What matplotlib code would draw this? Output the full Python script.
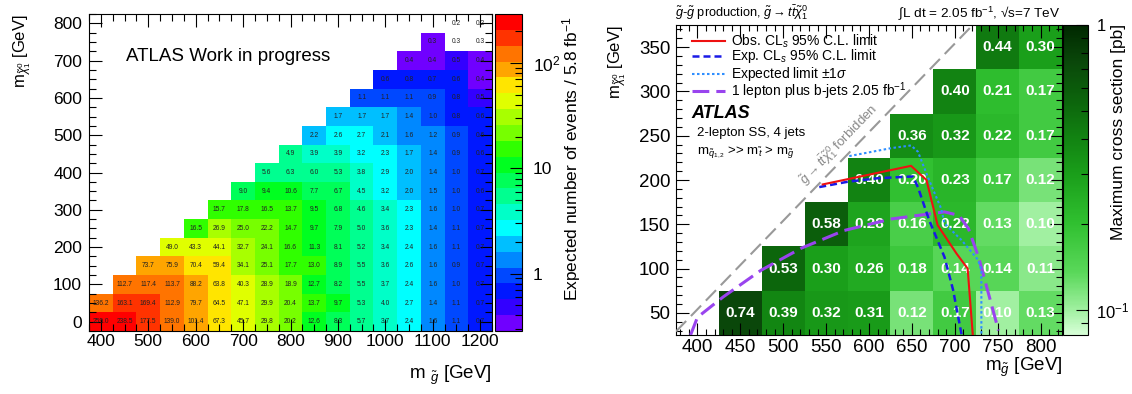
import numpy as np
import matplotlib
matplotlib.use("Agg")
import matplotlib.pyplot as plt
from matplotlib.colors import ListedColormap, LogNorm, LinearSegmentedColormap
from matplotlib.ticker import MultipleLocator

plt.rcParams['font.family'] = ['Liberation Sans', 'DejaVu Sans']
plt.rcParams['mathtext.fontset'] = 'custom'
plt.rcParams['mathtext.rm'] = 'Liberation Sans'
plt.rcParams['mathtext.it'] = 'Liberation Sans:italic'
plt.rcParams['mathtext.bf'] = 'Liberation Sans:bold'
plt.rcParams['mathtext.fallback'] = 'stixsans'

# ---- left panel: expected events / 5.8 fb-1 ----
left_mg = [400, 450, 500, 550, 600, 650, 700, 750, 800, 850, 900, 950, 1000, 1050, 1100, 1150, 1200]
left_mchi = [0, 50, 100, 150, 200, 250, 300, 350, 400, 450, 500, 550, 600, 650, 700, 750, 800]
left_row_start = [400, 400, 450, 500, 550, 600, 650, 700, 750, 800, 850, 900, 950, 1000, 1050, 1100, 1150]
left_rows = [
    [259.0, 238.5, 177.5, 139.0, 101.4, 67.3, 45.7, 29.8, 20.2, 12.6, 8.3, 5.7, 3.7, 2.4, 1.6, 1.1, 0.7],
    [136.2, 163.1, 169.4, 112.9, 79.7, 64.5, 47.1, 29.9, 20.4, 13.7, 9.7, 5.3, 4.0, 2.7, 1.4, 1.1, 0.7],
    [112.7, 117.4, 113.7, 88.2, 63.8, 40.3, 28.9, 18.9, 12.7, 8.2, 5.5, 3.7, 2.4, 1.6, 1.0, 0.7],
    [73.7, 75.9, 70.4, 59.4, 34.1, 25.1, 17.7, 13.0, 8.9, 5.5, 3.6, 2.6, 1.6, 0.9, 0.7],
    [49.0, 43.3, 44.1, 32.7, 24.1, 16.6, 11.3, 8.1, 5.2, 3.4, 2.4, 1.6, 1.1, 0.7],
    [16.5, 26.9, 25.0, 22.2, 14.7, 9.7, 7.9, 5.0, 3.6, 2.3, 1.4, 1.1, 0.7],
    [15.7, 17.8, 16.5, 13.7, 9.5, 6.8, 4.6, 3.4, 2.3, 1.6, 1.0, 0.7],
    [9.0, 9.4, 10.6, 7.7, 6.7, 4.5, 3.2, 2.0, 1.5, 1.0, 0.6],
    [5.6, 6.3, 6.0, 5.3, 3.8, 2.9, 2.0, 1.4, 1.0, 0.7],
    [4.9, 3.9, 3.9, 3.2, 2.3, 1.7, 1.4, 0.9, 0.6],
    [2.2, 2.6, 2.7, 2.1, 1.6, 1.2, 0.9, 0.6],
    [1.7, 1.7, 1.7, 1.4, 1.0, 0.8, 0.6],
    [1.1, 1.1, 1.1, 0.9, 0.8, 0.5],
    [0.6, 0.8, 0.7, 0.6, 0.4],
    [0.4, 0.4, 0.5, 0.4],
    [0.3, 0.27, 0.26],
    [0.2, 0.2],
]
left_colors = ['#7000ff', '#3300ff', '#0018ff', '#0048ff', '#0088ff', '#00bfff', '#00ffff', '#00ffc8',
               '#00ff90', '#00ff58', '#00ff20', '#30ff00', '#77ff00', '#a8ff00', '#e0ff00', '#ffe500',
               '#ffa500', '#ff7400', '#ff3300', '#ff0000']

# ---- right panel: maximum cross section [pb] ----
right_mg = [450, 500, 550, 600, 650, 700, 750, 800]
right_mchi = [50, 100, 150, 200, 250, 300, 350]
right_row_start = [450, 500, 550, 600, 650, 700, 750]
right_rows = [
    [0.74, 0.39, 0.32, 0.31, 0.12, 0.17, 0.10, 0.13],
    [0.53, 0.30, 0.26, 0.18, 0.14, 0.14, 0.11],
    [0.58, 0.28, 0.16, 0.22, 0.13, 0.10],
    [0.40, 0.20, 0.23, 0.17, 0.12],
    [0.36, 0.32, 0.22, 0.17],
    [0.40, 0.21, 0.17],
    [0.44, 0.30],
]
obs_x = [546, 649, 667, 680, 702, 715, 721]
obs_y = [195, 216, 200, 149, 117, 100, 25]
exp_x = [542, 575, 610, 651, 657, 670, 688, 698, 708]
exp_y = [192, 198, 202, 204, 192, 155, 113, 76, 25]
exp1s_x = [577, 626, 649, 657, 670, 684, 688, 708, 727, 731, 731]
exp1s_y = [227, 236, 239, 232, 200, 168, 151, 132, 110, 98, 25]
lep_x = [392, 400, 430, 474, 521, 571, 626, 688, 705, 716, 728, 751]
lep_y = [25, 45, 68, 98, 123, 143, 156, 164, 160, 145, 112, 30]
forbid_x = [375, 721]
forbid_y = [29, 375]


def fill_grid(xs, ys, starts, rows):
    g = np.full((len(ys), len(xs)), np.nan)
    for i, (s, vals) in enumerate(zip(starts, rows)):
        j0 = xs.index(s)
        g[i, j0:j0 + len(vals)] = vals
    return g


def edges(c):
    c = np.asarray(c, float)
    w = c[1] - c[0]
    return np.append(c - w / 2, c[-1] + w / 2)


W, H = 1132, 394
fig = plt.figure(figsize=(W / 100, H / 100), dpi=100)


def px_axes(l, t, r, b):
    return fig.add_axes([l / W, 1 - b / H, (r - l) / W, (b - t) / H])


def style_ticks(ax, maj, mnr):
    ax.tick_params(which='both', direction='in', top=True, right=True, width=0.8, colors='black')
    ax.tick_params(which='major', length=maj)
    ax.tick_params(which='minor', length=mnr)
    for s in ax.spines.values():
        s.set_linewidth(0.8)


# ---------------- left ----------------
axL = px_axes(89, 14, 492, 331)
gridL = fill_grid(left_mg, left_mchi, left_row_start, left_rows)
cmapL = ListedColormap(left_colors)
cmapL.set_under('white')
cmapL.set_bad('white')
normL = LogNorm(vmin=0.285, vmax=292)
meshL = axL.pcolormesh(edges(left_mg), edges(left_mchi), np.ma.masked_invalid(gridL), cmap=cmapL, norm=normL)
for i, y in enumerate(left_mchi):
    for j, x in enumerate(left_mg):
        v = gridL[i, j]
        if not np.isnan(v):
            axL.text(x, y, f"{v:.1f}", ha='center', va='center', fontsize=4.8, color='#222222')
axL.set_xlim(375, 1225)
axL.set_ylim(-25, 825)
axL.xaxis.set_major_locator(MultipleLocator(100))
axL.xaxis.set_minor_locator(MultipleLocator(25))
axL.yaxis.set_major_locator(MultipleLocator(100))
axL.yaxis.set_minor_locator(MultipleLocator(25))
style_ticks(axL, 9, 5)
axL.tick_params(axis='x', labelsize=12.5, pad=2)
axL.tick_params(axis='y', labelsize=12.5, pad=5)
axL.text(453, 710, 'ATLAS Work in progress', fontsize=13.5, ha='left', va='center')

caxL = px_axes(495, 14, 522, 331)
cbL = fig.colorbar(meshL, cax=caxL)
cbL.outline.set_linewidth(0.8)
cbL.set_ticks([1, 10, 100], labels=['1', '10', '$10^2$'])
cbL.set_ticks([0.3, 0.4, 0.5, 0.6, 0.7, 0.8, 0.9, 2, 3, 4, 5, 6, 7, 8, 9,
               20, 30, 40, 50, 60, 70, 80, 90, 200], minor=True)
caxL.tick_params(which='both', direction='in', right=True, width=0.8)
caxL.tick_params(which='major', length=9, labelsize=12.5, pad=8)
caxL.tick_params(which='minor', length=5)
fig.text(572 / W, 1 - 16 / H, 'Expected number of events / 5.8 fb$^{-1}$', rotation=90,
         ha='center', va='top', fontsize=12.5)
fig.text(22 / W, 1 - 14 / H, r'm$_{\tilde{\chi}_1^0}$ [GeV]', rotation=90, ha='center', va='top', fontsize=12)
fig.text(492 / W, 1 - 375 / H, r'm $_{\tilde{g}}$ [GeV]', ha='right', va='center', fontsize=13.5)

# ---------------- right ----------------
axR = px_axes(676, 25, 1062, 335)
gridR = fill_grid(right_mg, right_mchi, right_row_start, right_rows)
cmapR = LinearSegmentedColormap.from_list('grn', [
    (0.0, '#d8ffd8'), (0.08, '#a0f0a0'), (0.2, '#5ad85a'), (0.36, '#30c030'),
    (0.52, '#1a9e1a'), (0.63, '#128412'), (0.75, '#0c660c'), (0.88, '#0a480a'), (1.0, '#002800')])
cmapR.set_bad('white')
normR = LogNorm(vmin=0.082, vmax=1.0)
meshR = axR.pcolormesh(edges(right_mg), edges(right_mchi), np.ma.masked_invalid(gridR), cmap=cmapR, norm=normR)
for i, y in enumerate(right_mchi):
    for j, x in enumerate(right_mg):
        v = gridR[i, j]
        if not np.isnan(v):
            axR.text(x, y, f"{v:.2f}", ha='center', va='center', fontsize=11, color='white',
                     fontweight='bold', zorder=3)

axR.plot(forbid_x, forbid_y, color='#999999', lw=1.5, linestyle=(0, (7, 3.3)), zorder=4)
axR.text(565, 240, r'$\tilde{g}\rightarrow t\bar{t}\tilde{\chi}_1^0$ forbidden', rotation=46,
         ha='center', va='center', fontsize=9.5, color='#888888', zorder=4)
axR.plot(lep_x, lep_y, color='#9944ee', lw=2.2, linestyle=(0, (5.5, 2.3)), zorder=5)
axR.plot(exp1s_x, exp1s_y, color='#2f8fff', lw=1.5, linestyle=(0, (1.2, 1.2)), zorder=5)
axR.plot(exp_x, exp_y, color='#1a1ae6', lw=1.8, linestyle=(0, (2.8, 1.6)), zorder=5)
axR.plot(obs_x, obs_y, color='#ee1111', lw=1.5, zorder=6)

axR.set_xlim(375, 825)
axR.set_ylim(25, 375)
axR.xaxis.set_major_locator(MultipleLocator(50))
axR.xaxis.set_minor_locator(MultipleLocator(10))
axR.yaxis.set_major_locator(MultipleLocator(50))
axR.yaxis.set_minor_locator(MultipleLocator(10))
style_ticks(axR, 9, 4.5)
axR.tick_params(axis='x', labelsize=13.5, pad=3)
axR.tick_params(axis='y', labelsize=13.5, pad=4)

# legend drawn by hand
leg = [
    ('Obs. CL$_s$ 95% C.L. limit', dict(color='#ee1111', lw=1.5, linestyle='-'), 0.948),
    ('Exp. CL$_s$ 95% C.L. limit', dict(color='#1a1ae6', lw=1.8, linestyle=(0, (2.8, 1.6))), 0.900),
    (r'Expected limit $\pm$1$\sigma$', dict(color='#2f8fff', lw=1.5, linestyle=(0, (1.2, 1.2))), 0.842),
    ('1 lepton plus b-jets 2.05 fb$^{-1}$', dict(color='#9944ee', lw=2.2, linestyle=(0, (5.5, 2.3))), 0.788),
]
for lab, kw, yy in leg:
    axR.plot([0.041, 0.127], [yy, yy], transform=axR.transAxes, zorder=7, **kw)
    axR.text(0.1425, yy, lab, transform=axR.transAxes, fontsize=10, va='center', ha='left', zorder=7)
axR.text(0.04, 0.716, 'ATLAS', transform=axR.transAxes, fontsize=13, fontweight='bold',
         fontstyle='italic', va='center', ha='left')
axR.text(0.055, 0.652, '2-lepton SS, 4 jets', transform=axR.transAxes, fontsize=9.5, va='center', ha='left')
axR.text(0.055, 0.587, r'm$_{\tilde{q}_{1,2}}$ >> m$_{\tilde{t}}$ > m$_{\tilde{g}}$', transform=axR.transAxes,
         fontsize=9.5, va='center', ha='left')

fig.text(675 / W, 1 - 13 / H, r'$\tilde{g}$-$\tilde{g}$ production, $\tilde{g}\rightarrow t\bar{t}\tilde{\chi}_1^0$',
         ha='left', va='center', fontsize=9.2)
fig.text(1060 / W, 1 - 13 / H, '\u222bL dt = 2.05 fb$^{-1}$, \u221as=7 TeV', ha='right', va='center', fontsize=9.7)

caxR = px_axes(1063, 25, 1088, 335)
cbR = fig.colorbar(meshR, cax=caxR)
cbR.outline.set_linewidth(0.8)
cbR.set_ticks([0.1, 1], labels=['$10^{-1}$', '1'])
cbR.set_ticks([0.09, 0.2, 0.3, 0.4, 0.5, 0.6, 0.7, 0.8, 0.9], minor=True)
caxR.tick_params(which='both', direction='in', right=True, width=0.8)
caxR.tick_params(which='major', length=9, labelsize=12, pad=6)
caxR.tick_params(which='minor', length=5)
fig.text(1119 / W, 1 - 24 / H, 'Maximum cross section [pb]', rotation=90, ha='center', va='top', fontsize=12.5)
fig.text(617 / W, 1 - 25 / H, r'm$_{\tilde{\chi}_1^0}$ [GeV]', rotation=90, ha='center', va='top', fontsize=12)
fig.text(1062 / W, 1 - 367 / H, r'm$_{\tilde{g}}$ [GeV]', ha='right', va='center', fontsize=13.5)

fig.savefig('out.png', dpi=100)
